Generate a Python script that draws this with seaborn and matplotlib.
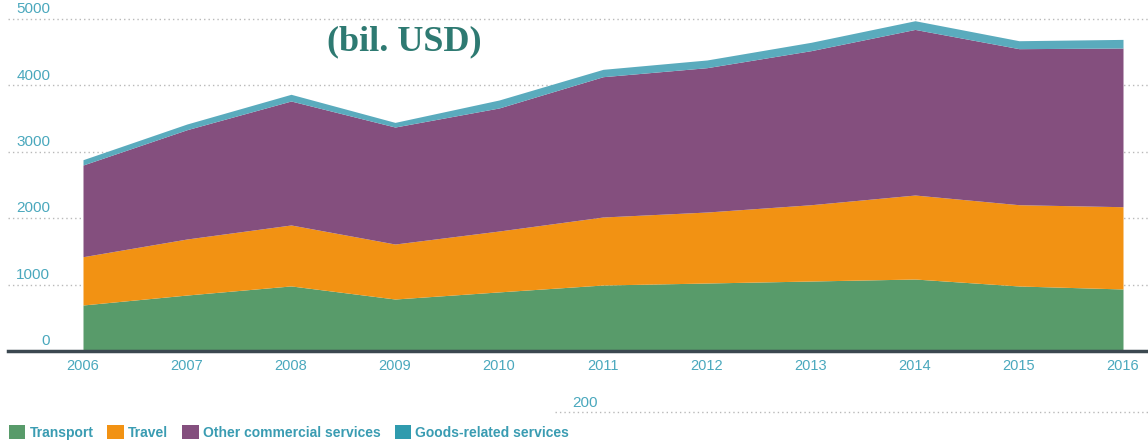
import matplotlib
matplotlib.use("Agg")
import matplotlib.pyplot as plt
from matplotlib.patches import Patch
from matplotlib.lines import Line2D
import seaborn as sns

years = [2006, 2007, 2008, 2009, 2010, 2011, 2012, 2013, 2014, 2015, 2016]
transport = [693, 843, 980, 783, 890, 994, 1024, 1054, 1084, 979, 934]
travel = [727, 844, 918, 828, 917, 1024, 1069, 1149, 1265, 1224, 1239]
other_commercial = [1381, 1646, 1867, 1762, 1853, 2113, 2174, 2320, 2494, 2350, 2390]
goods_related = [80, 86, 101, 70, 120, 111, 116, 126, 131, 120, 130]
series_labels = ["Transport", "Travel", "Other commercial services", "Goods-related services"]
y_ticks = [0, 1000, 2000, 3000, 4000, 5000]

sns.set_theme(style="white")
plt.rcParams["font.family"] = ["Liberation Sans", "DejaVu Sans"]

area_colors = ["#589b6a", "#f29213", "#844f7e", "#5aabbd"]
legend_colors = ["#589b6a", "#f29213", "#844f7e", "#2f9bae"]
teal_text = "#4aa8bd"

fig = plt.figure(figsize=(11.48, 4.43), dpi=100)
ax = fig.add_axes([8 / 1148, 1 - 351 / 443, 1140 / 1148, (351 - 5) / 443])

ax.stackplot(years, transport, travel, other_commercial, goods_related,
             colors=area_colors, linewidth=0, zorder=2)

ax.set_xlim(2006 - 75 / 104, 2016 + 25 / 104)
ax.set_ylim(0, 5000 * (351 - 5) / (351 - 19))

# dotted horizontal grid with labels sitting above each line
for v in y_ticks[1:]:
    ax.axhline(v, color="#b9b9b9", linestyle=(0, (1, 2.2)), linewidth=1.0, zorder=1)
for v in y_ticks:
    ax.annotate(str(v), xy=(0.037, v), xycoords=("axes fraction", "data"),
                xytext=(0, 2), textcoords="offset points",
                ha="right", va="bottom", fontsize=11, color=teal_text)

ax.set_yticks([])
ax.set_xticks(years)
ax.set_xticklabels([str(y) for y in years], fontsize=10.5, color=teal_text)
ax.tick_params(axis="x", direction="in", length=6, width=2, color="#3b4850", pad=6)

for s in ["top", "right", "left"]:
    ax.spines[s].set_visible(False)
ax.spines["bottom"].set_color("#3b4850")
ax.spines["bottom"].set_linewidth(2.5)
ax.spines["bottom"].set_zorder(3)

fig.text(327 / 1148, 1 - 42 / 443, "(bil. USD)", family="Liberation Serif",
         fontweight="bold", fontsize=26, color="#2e7a72", va="center", ha="left")

fig.text(572 / 1148, 1 - 403 / 443, "200", fontsize=11, color=teal_text,
         va="center", ha="left")
fig.add_artist(Line2D([555 / 1148, 1.0], [1 - 412 / 443, 1 - 412 / 443],
                      color="#b9b9b9", linestyle=(0, (1, 2.2)), linewidth=1.0))

handles = [Patch(facecolor=c, edgecolor="none") for c in legend_colors]
leg = fig.legend(handles, series_labels, loc="lower left", bbox_to_anchor=(-0.001, -0.015),
                 ncol=4, frameon=False, handlelength=1.2, handleheight=1.2,
                 handletextpad=0.3, columnspacing=1.0, borderaxespad=0.3,
                 prop={"weight": "bold", "size": 10}, labelcolor="#3a9cb2")

fig.savefig("out.png", dpi=100)
